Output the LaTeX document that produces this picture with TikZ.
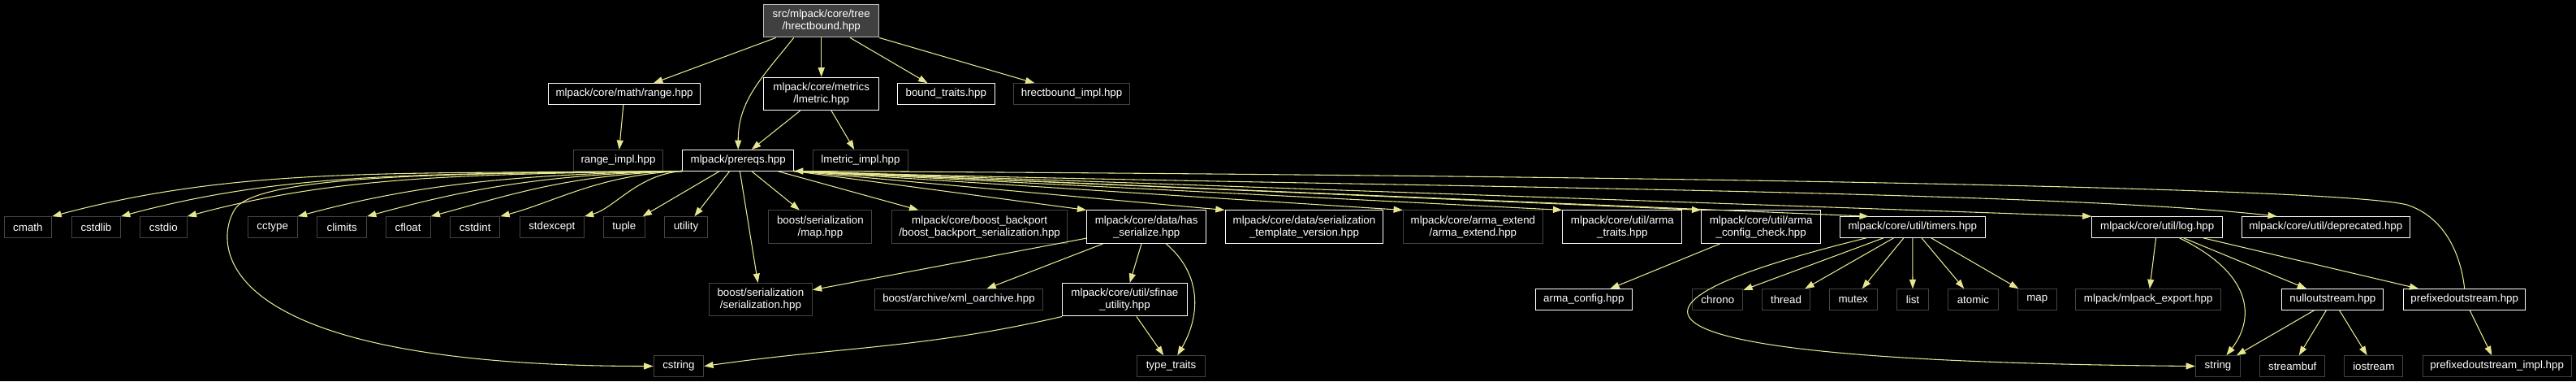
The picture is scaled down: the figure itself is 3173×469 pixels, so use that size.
\documentclass[tikz,border=0pt]{standalone}
\usepackage{fontspec}
\setmainfont{Liberation Sans}
\usepackage{tikz}
\usetikzlibrary{arrows.meta,calc}
\definecolor{edgeYel}{RGB}{230,230,145}
\definecolor{extGray}{RGB}{68,68,68}
\definecolor{rootFill}{RGB}{64,64,64}
\definecolor{rootLine}{RGB}{191,191,191}
\tikzset{
  file/.style={draw,rectangle,fill=black,text=white,line width=0.75pt,inner sep=0pt,
               minimum height=19.2pt,align=center,font=\fontsize{10}{11.25}\selectfont},
  doc/.style={file,draw=white},
  ext/.style={file,draw=extGray},
  rootbox/.style={file,fill=rootFill,draw=rootLine},
  tall/.style={minimum height=30.4pt},
  wd/.style={minimum width=#1*0.75pt},
  incl/.style={-{Triangle[length=8.5pt,width=6pt]},line width=0.8pt,color=edgeYel},
}

\begin{document}
\begin{tikzpicture}[x=0.75pt,y=0.75pt]
  \fill[black] (0,0) rectangle (3173,-469);
  \useasboundingbox (0,0) rectangle (3173,-469);

  %% ── Nodes (rows top-to-bottom) ─────────────────────────────────────────
  \node[rootbox,tall,wd=141.8] (root) at (1011.7,-25.7) {src/mlpack/core/tree\\/hrectbound.hpp};

  \node[doc,wd=187.3]      (range)       at (769.1,-115.5)  {mlpack/core/math/range.hpp};
  \node[doc,tall,wd=142]   (lmetric)     at (1011.7,-115.3) {mlpack/core/metrics\\/lmetric.hpp};
  \node[doc,wd=119.4]      (boundtraits) at (1165.3,-115.5) {bound\_traits.hpp};
  \node[ext,wd=143.4]      (hrectimpl)   at (1320,-115.5)   {hrectbound\_impl.hpp};

  \node[ext,wd=110.7]      (rangeimpl)   at (761.5,-197.2)  {range\_impl.hpp};
  \node[doc,wd=136.7]      (prereqs)     at (909.2,-197.2)  {mlpack/prereqs.hpp};
  \node[ext,wd=117.9]      (lmetricimpl) at (1060,-197.2)   {lmetric\_impl.hpp};

  \foreach \n/\x/\w in {cmath/34.4/58.7,cstdlib/118.4/60.2,cstdio/201.3/57.7,cctype/335.7/61.2,
                        climits/421.2/60.7,cfloat/502.6/55.1,cstdint/585.2/61.2,stdexcept/679.8/79.1,
                        tuple/768.9/51,utility/845/53.6}
    \node[ext,wd=\w] (\n) at (\x,-279.5) {\n};
  \node[ext,tall,wd=127]   (bsmap)      at (1010.4,-279.2) {boost/serialization\\/map.hpp};
  \node[ext,tall,wd=216.3] (backport)   at (1206.6,-279.2) {mlpack/core/boost\_backport\\/boost\_backport\_serialization.hpp};
  \node[doc,tall,wd=147]   (hasser)     at (1412.2,-279.2) {mlpack/core/data/has\\\_serialize.hpp};
  \node[doc,tall,wd=194.8] (tmplver)    at (1606.5,-279.2) {mlpack/core/data/serialization\\\_template\_version.hpp};
  \node[ext,tall,wd=172]   (armaext)    at (1814.4,-279.2) {mlpack/core/arma\_extend\\/arma\_extend.hpp};
  \node[doc,tall,wd=147]   (armatraits) at (1998.3,-279.2) {mlpack/core/util/arma\\\_traits.hpp};
  \node[doc,tall,wd=147]   (armacheck)  at (2169.2,-279.2) {mlpack/core/util/arma\\\_config\_check.hpp};
  \node[doc,wd=179]        (timers)     at (2355.8,-279.5) {mlpack/core/util/timers.hpp};
  \node[doc,wd=160.5]      (log)        at (2657.2,-279.5) {mlpack/core/util/log.hpp};
  \node[doc,wd=207]        (deprecated) at (2864.8,-279.5) {mlpack/core/util/deprecated.hpp};

  \node[ext,tall,wd=127]   (serial)     at (936.9,-368.7)  {boost/serialization\\/serialization.hpp};
  \node[ext,wd=207]        (xmlo)       at (1181,-368.5)   {boost/archive/xml\_oarchive.hpp};
  \node[doc,tall,wd=153.6] (sfinae)     at (1385.4,-368.7) {mlpack/core/util/sfinae\\\_utility.hpp};
  \node[doc,wd=119.4]      (armaconfig) at (1950.8,-368.5) {arma\_config.hpp};
  \foreach \n/\x/\w in {chrono/2115.8/62,thread/2200/59,mutex/2282.7/59,list/2356/39.4,
                        atomic/2430.4/62,map/2509.3/47.5}
    \node[ext,wd=\w] (\n) at (\x,-368.5) {\n};
  \node[ext,wd=179]        (export)     at (2646.2,-368.5) {mlpack/mlpack\_export.hpp};
  \node[doc,wd=125]        (nullout)    at (2873.4,-368.5) {nulloutstream.hpp};
  \node[doc,wd=150]        (prefixout)  at (3035.7,-368.5) {prefixedoutstream.hpp};

  \foreach \n/\x/\w in {cstring/835.9/61.7,string/2732/55,streambuf/2823.7/80,iostream/2923.8/72}
    \node[ext,wd=\w] (\n) at (\x,-450.5) {\n};
  \node[ext,wd=83.2]       (typetraits) at (1442.5,-450.5) {type\_traits};
  \node[ext,wd=183]        (prefiximpl) at (3075.7,-450.5) {prefixedoutstream\_impl.hpp};

  %% ── Straight includes ──────────────────────────────────────────────────
  \foreach \a/\b in {root/range,root/lmetric,root/boundtraits,root/hrectimpl,range/rangeimpl,
                     lmetric/prereqs,lmetric/lmetricimpl,prereqs/tuple,prereqs/utility,prereqs/bsmap,
                     prereqs/serial,prereqs/backport,hasser/serial,hasser/xmlo,hasser/sfinae,
                     sfinae/typetraits,armacheck/armaconfig,timers/chrono,timers/thread,timers/mutex,
                     timers/list,timers/atomic,timers/map,log/export,log/nullout,log/prefixout,
                     nullout/string,nullout/streambuf,nullout/iostream,prefixout/prefiximpl}{
    \draw[incl] (\a)--(\b);
  }
  \foreach \t/\s in {hasser/0,tmplver/0,armaext/0,armatraits/0,armacheck/0,timers/36,log/0}{
    \draw[incl] (prereqs.south east)--($(\t.north west)+(\s,0)$);
  }

  %% ── Curved includes ────────────────────────────────────────────────────
  \foreach \t/\c/\d/\e in {cmath/350/233/62,cstdlib/311/208/56,cstdio/275/183/49,cctype/214/142/38,
                           climits/175/117/32,cfloat/140/93/25,cstdint/101/68/18,stdexcept/55/37/10}{
    \draw[incl] (prereqs.south west) .. controls +(-\c,-4) and +(\d,\e) .. (\t.north east);
  }
  \draw[incl] ($(root.south)+(-34,0)$) .. controls +(-40,-50) and +(0,60) .. (prereqs.north);
  \draw[incl] (prereqs.south west) .. controls +(-250,-3) and +(45,40) .. (293,-253)
              .. controls +(-20,-18) and +(-600,0) .. (cstring.west);
  \draw[incl] (prereqs.south east) .. controls +(522,-18) and +(-305,35) .. ($(deprecated.north west)+(44,0)$);
  \draw[incl] (prefixout.north) .. controls +(-5,45) and +(45,-15) .. (2965,-252)
              .. controls +(-100,25) and +(800,-4) .. (prereqs.south east);
  \draw[incl] ($(timers.south)+(-57,0)$) .. controls +(-399,-98) and +(-654,5.5) .. (string.west);
  \draw[incl] (log) .. controls +(123,-60) and +(43,55) .. (string);
  \draw[incl] (hasser) .. controls +(70,-60) and +(35,60) .. (typetraits);
  \draw[incl] (sfinae.south west) to[out=193,in=8] (cstring.east);
\end{tikzpicture}
\end{document}
